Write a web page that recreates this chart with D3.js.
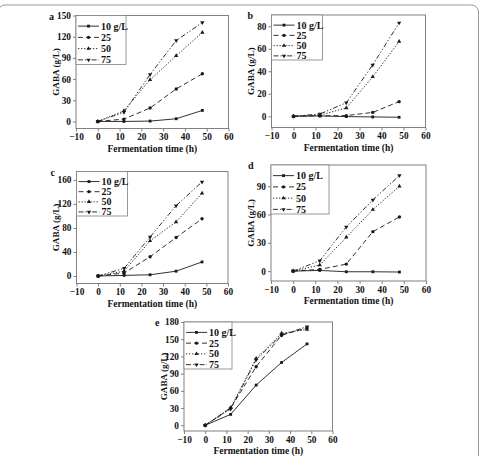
<!DOCTYPE html>
<html>
<head>
<meta charset="utf-8">
<script src="https://cdn.jsdelivr.net/npm/d3@7"></script>
<style>
  body { margin: 0; background: #fff; }
  svg { display: block; font-family: "Liberation Serif", "Times New Roman", serif; font-weight: bold; }
</style>
</head>
<body>
<div id="wrapper"></div>
<script>
// data
const times = [0, 12, 24, 36, 48];
const seriesNames = ["10 g/L", "25", "50", "75"];
const xTicks = [-10, 0, 10, 20, 30, 40, 50, 60];

const panelA = [
  [0, 0, 0.5, 3.8, 15.6],
  [0, 3.3, 19, 46, 67.5],
  [0, 15, 59, 93, 126],
  [0, 13, 66.5, 114.6, 140]
];
const panelB = [
  [0, 0.3, -0.3, -0.6, -0.9],
  [0, 0.4, 0.6, 3.4, 13],
  [0, 1, 7.4, 35, 66.5],
  [0, 2, 12, 45.6, 83]
];
const panelC = [
  [0, 1, 2, 8, 23.4],
  [0, 5, 32, 64, 95.3],
  [0, 8, 58.5, 90, 137.7],
  [0, 12.8, 65, 117, 156.6]
];
const panelD = [
  [0, 0.7, -0.7, -0.7, -1],
  [0, 1.8, 7.4, 41.8, 57.4],
  [0, 6.4, 35.8, 65.2, 90],
  [0, 11, 46.8, 75.5, 101.3]
];
const panelE = [
  [0, 19, 70, 109.4, 141.8],
  [0, 30, 102, 157, 169.6],
  [0, 30.7, 116.3, 160.3, 167],
  [0, 28.4, 114, 157.4, 171.9]
];

const yTicksA = [0, 30, 60, 90, 120, 150];
const yTicksB = [0, 20, 40, 60, 80];
const yTicksC = [0, 40, 80, 120, 160];
const yTicksD = [0, 30, 60, 90];
const yTicksE = [0, 30, 60, 90, 120, 150, 180];

// panel layout
const panels = [
  { label: "a", data: panelA, ticks: yTicksA, yDomain: [-10, 150], x: 76, y: 15.5, w: 152.5, h: 113, legW: 50, legH: 49, labX: -27 },
  { label: "b", data: panelB, ticks: yTicksB, yDomain: [-10, 90], x: 271.5, y: 15, w: 154, h: 112.5, legW: 51, legH: 45, labX: -24 },
  { label: "c", data: panelC, ticks: yTicksC, yDomain: [-12.5, 174], x: 76.5, y: 171.5, w: 151.5, h: 112, legW: 51, legH: 44.5, labX: -26 },
  { label: "d", data: panelD, ticks: yTicksD, yDomain: [-10.5, 112.5], x: 271, y: 165, w: 155, h: 116, legW: 58, legH: 49, labX: -23 },
  { label: "e", data: panelE, ticks: yTicksE, yDomain: [-10, 180], x: 184, y: 322, w: 148.5, h: 109, legW: 48, legH: 47, labX: -29 }
];

const dashes = [null, "5,3", "1.3,1.7", "5,2,1.3,2,1.3,2"];
const symbols = [d3.symbolSquare, d3.symbolCircle, d3.symbolTriangle, d3.symbolTriangle];
const lineColor = "#1a1a1a";
const frameColor = "#808080";

const wrapper = d3.select("#wrapper")
  .append("svg")
  .attr("width", 480)
  .attr("height", 456);

// outer rounded frame
wrapper.append("rect")
  .attr("x", -2)
  .attr("y", 5)
  .attr("width", 480.5)
  .attr("height", 520)
  .attr("rx", 7)
  .attr("fill", "none")
  .attr("stroke", "#9a9a9a")
  .attr("stroke-width", 1);

panels.forEach(p => {
  const bounds = wrapper.append("g")
    .attr("transform", `translate(${p.x}, ${p.y})`);

  const xScale = d3.scaleLinear()
    .domain([-10, 60])
    .range([0, p.w]);
  const yScale = d3.scaleLinear()
    .domain(p.yDomain)
    .range([p.h, 0]);

  // box
  bounds.append("rect")
    .attr("width", p.w)
    .attr("height", p.h)
    .attr("fill", "none")
    .attr("stroke", frameColor)
    .attr("stroke-width", 1);

  // axes
  const xAxis = bounds.append("g")
    .attr("transform", `translate(0, ${p.h})`)
    .call(d3.axisBottom(xScale).tickValues(xTicks).tickSize(3).tickPadding(2).tickFormat(d3.format("d")));
  const yAxis = bounds.append("g")
    .call(d3.axisLeft(yScale).tickValues(p.ticks).tickSize(3).tickPadding(2));
  [xAxis, yAxis].forEach(ax => {
    ax.select(".domain").remove();
    ax.selectAll(".tick line").attr("stroke", frameColor);
    ax.selectAll(".tick text")
      .attr("fill", "#111")
      .style("font-family", "Liberation Serif, serif")
      .style("font-weight", "bold")
      .style("font-size", "9.3px");
  });

  bounds.append("text")
    .attr("x", p.w / 2)
    .attr("y", p.h + 23)
    .attr("text-anchor", "middle")
    .attr("fill", "#111")
    .style("font-size", "9.5px")
    .text("Fermentation time (h)");

  bounds.append("text")
    .attr("transform", `translate(-17.5, ${p.h / 2}) rotate(-90)`)
    .attr("text-anchor", "middle")
    .attr("fill", "#111")
    .style("font-size", "9.2px")
    .text("GABA (g/L)");

  bounds.append("text")
    .attr("x", p.labX)
    .attr("y", 4)
    .attr("fill", "#111")
    .style("font-size", "10px")
    .text(p.label);

  // series lines and markers
  const line = d3.line()
    .x((d, i) => xScale(times[i]))
    .y(d => yScale(d));

  p.data.forEach((vals, s) => {
    bounds.append("path")
      .datum(vals)
      .attr("d", line)
      .attr("fill", "none")
      .attr("stroke", lineColor)
      .attr("stroke-width", 0.9)
      .attr("stroke-dasharray", dashes[s]);
    bounds.selectAll(null)
      .data(vals)
      .enter()
      .append("path")
      .attr("d", d3.symbol().type(symbols[s]).size(s === 1 ? 9 : 8))
      .attr("transform", (d, i) => `translate(${xScale(times[i])}, ${yScale(d)})${s === 3 ? " rotate(180)" : ""}`)
      .attr("fill", lineColor);
  });

  // legend
  const legend = bounds.append("g");
  legend.append("rect")
    .attr("width", p.legW)
    .attr("height", p.legH)
    .attr("fill", "#fff")
    .attr("stroke", frameColor)
    .attr("stroke-width", 0.8);
  const rowH = (p.legH - 4) / 4;
  seriesNames.forEach((name, s) => {
    const cy = 6 + rowH * s + rowH / 2 - 1;
    legend.append("line")
      .attr("x1", 2)
      .attr("x2", 23)
      .attr("y1", cy)
      .attr("y2", cy)
      .attr("stroke", lineColor)
      .attr("stroke-width", 0.9)
      .attr("stroke-dasharray", dashes[s]);
    legend.append("path")
      .attr("d", d3.symbol().type(symbols[s]).size(8))
      .attr("transform", `translate(12.5, ${cy})${s === 3 ? " rotate(180)" : ""}`)
      .attr("fill", lineColor);
    legend.append("text")
      .attr("x", 25)
      .attr("y", cy + 3.5)
      .attr("fill", "#111")
      .style("font-size", "10px")
      .text(name);
  });
});
</script>
</body>
</html>
